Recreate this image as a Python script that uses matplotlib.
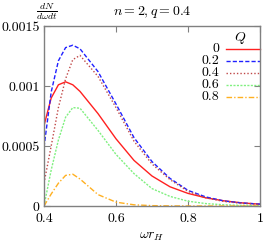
import numpy as np
import matplotlib
matplotlib.use('Agg')
import matplotlib.pyplot as plt

plt.rcParams['font.family'] = 'serif'
plt.rcParams['font.serif'] = ['cmr10', 'DejaVu Serif']
plt.rcParams['mathtext.fontset'] = 'cm'
plt.rcParams['axes.unicode_minus'] = False

# omega r_H
w = [0.40, 0.42, 0.44, 0.46, 0.48, 0.50, 0.55, 0.60, 0.65, 0.70,
     0.75, 0.80, 0.85, 0.90, 0.95, 1.00]

# dN/dw dt for each Q
Q_labels = ['0', '0.2', '0.4', '0.6', '0.8']
dN_Q0  = [6.7e-4, 9.0e-4, 1.01e-3, 1.035e-3, 1.01e-3, 9.55e-4, 7.7e-4, 5.6e-4, 3.8e-4, 2.5e-4,
          1.6e-4, 1.05e-4, 6.8e-5, 4.3e-5, 2.6e-5, 1.5e-5]
dN_Q02 = [4.9e-4, 9.5e-4, 1.21e-3, 1.32e-3, 1.34e-3, 1.31e-3, 1.12e-3, 8.5e-4, 5.7e-4, 3.7e-4,
          2.3e-4, 1.3e-4, 7.5e-5, 4.2e-5, 2.5e-5, 1.6e-5]
dN_Q04 = [1.9e-4, 5.0e-4, 8.2e-4, 1.06e-3, 1.22e-3, 1.255e-3, 1.08e-3, 8.2e-4, 5.4e-4, 3.5e-4,
          2.2e-4, 1.22e-4, 6.8e-5, 3.8e-5, 2.2e-5, 1.4e-5]
dN_Q06 = [0.0, 3.0e-4, 5.5e-4, 7.4e-4, 8.2e-4, 8.15e-4, 6.3e-4, 4.3e-4, 2.7e-4, 1.45e-4,
          8.0e-5, 4.0e-5, 2.0e-5, 1.0e-5, 5.0e-6, 2.0e-6]
dN_Q08 = [0.0, 1.0e-4, 1.9e-4, 2.55e-4, 2.65e-4, 2.25e-4, 9.5e-5, 3.2e-5, 1.0e-5, 3.0e-6,
          1.0e-6, 0.0, 0.0, 0.0, 0.0, 0.0]

series = [dN_Q0, dN_Q02, dN_Q04, dN_Q06, dN_Q08]
colors = ['#ff2020', '#2020ff', '#c04848', '#80f080', '#ffb020']
styles = ['-', (0, (3, 1.5)), (0, (1, 1.5)), (0, (1.5, 1)), (0, (4, 1.5, 1, 1.5))]

fig = plt.figure(figsize=(2.66, 2.43), dpi=100)
ax = fig.add_axes([44/266, 37/243, 216/266, 180/243])

for y, c, ls in zip(series, colors, styles):
    ax.plot(w, y, color=c, ls=ls, lw=1.0)

ax.set_xlim(0.4, 1.0)
ax.set_ylim(0, 0.0015)
ax.set_xticks([0.4, 0.6, 0.8, 1.0])
ax.set_xticklabels(['0.4', '0.6', '0.8', '1'])
ax.set_yticks([0, 0.0005, 0.001, 0.0015])
ax.set_yticklabels(['0', '0.0005', '0.001', '0.0015'])
ax.tick_params(direction='in', length=4, width=0.8, color='#808080',
               top=True, right=True, labelsize=10, pad=3)
ax.tick_params(axis='x', pad=5)
for s in ax.spines.values():
    s.set_color('#808080')
    s.set_linewidth(1.0)

ax.set_xlabel(r'$\omega r_H$', fontsize=10, labelpad=3)
fig.text(47/266, 1 - 12/243, r'$\frac{dN}{d\omega dt}$', fontsize=10,
         ha='center', va='center')
fig.text(152/266, 1 - 12/243, r'$n=2, q=0.4$', fontsize=10,
         ha='center', va='center')

# legend, gnuplot style
ax.text(0.91, 0.935, r'$Q$', transform=ax.transAxes, fontsize=10,
        ha='center', va='center')
for i, (lab, c, ls) in enumerate(zip(Q_labels, colors, styles)):
    yy = 0.873 - i * 0.0665
    ax.plot([0.842, 1.0], [yy, yy], transform=ax.transAxes, color=c, ls=ls, lw=1.0,
            clip_on=False)
    ax.text(0.81, yy, lab, transform=ax.transAxes, fontsize=10,
            ha='right', va='center')

fig.savefig('out.png', dpi=100)
